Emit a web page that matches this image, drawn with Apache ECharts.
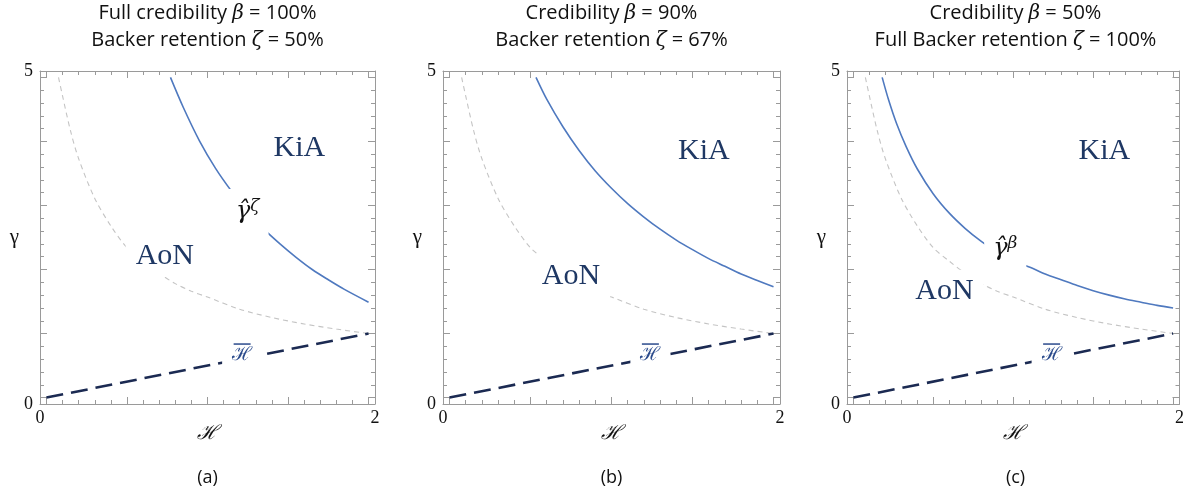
<!DOCTYPE html>
<html><head><meta charset="utf-8">
<script src="https://cdn.jsdelivr.net/npm/echarts@6/dist/echarts.min.js"></script>
<style>html,body{margin:0;padding:0;background:#fff}#c{width:1187px;height:494px}</style>
</head><body><div id="c"></div><script>
// ---- data (H on x, gamma on y) ----
const grayH = [0.075,0.1,0.15,0.2,0.3,0.4,0.5,0.6,0.7,0.8,0.9,1.0,1.2,1.4,1.6,1.8,2.0];
const grayG = [5.0,4.71,4.16,3.73,3.11,2.68,2.34,2.13,1.94,1.78,1.66,1.57,1.38,1.25,1.15,1.07,1.0];

const blueAH = [0.77,0.85,0.95,1.05,1.15,1.25,1.35,1.45,1.55,1.65,1.75,1.85,2.0];
const blueAG = [5.0,4.53,4.01,3.58,3.22,2.90,2.63,2.40,2.19,2.00,1.84,1.69,1.49];

const blueBH = [0.534,0.6,0.7,0.8,0.9,1.0,1.1,1.2,1.3,1.4,1.5,1.6,1.7,1.8,1.9,2.0];
const blueBG = [5.0,4.66,4.23,3.86,3.54,3.27,3.03,2.82,2.63,2.46,2.31,2.17,2.05,1.93,1.83,1.73];

const blueCH = [0.18,0.22,0.27,0.33,0.4,0.5,0.6,0.7,0.8,0.9,1.0,1.1,1.2,1.3,1.4,1.5,1.6,1.7,1.8,1.9,2.0];
const blueCG = [5.0,4.65,4.28,3.92,3.57,3.18,2.88,2.64,2.44,2.27,2.13,2.04,1.93,1.84,1.75,1.67,1.60,1.54,1.49,1.44,1.40];

const hbarH = [0, 2];
const hbarG = [0, 1];

const xMajorTicks = [0, 0.5, 1, 1.5, 2];
const xMinorTicks = [0.1,0.2,0.3,0.4,0.6,0.7,0.8,0.9,1.1,1.2,1.3,1.4,1.6,1.7,1.8,1.9];
const yMajorTicks = [0, 1, 2, 3, 4, 5];
const yMinorTicks = [0.2,0.4,0.6,0.8,1.2,1.4,1.6,1.8,2.2,2.4,2.6,2.8,3.2,3.4,3.6,3.8,4.2,4.4,4.6,4.8];
const xTickText = ['0', '2'];
const yTickText = ['0', '5'];

const titleLines = [
  ['Full credibility {i|β} = 100%', 'Backer retention {i|ζ} = 50%'],
  ['Credibility {i|β} = 90%', 'Backer retention {i|ζ} = 67%'],
  ['Credibility {i|β} = 50%', 'Full Backer retention {i|ζ} = 100%']
];
const panelTags = ['(a)', '(b)', '(c)'];
const blueLabel = ['ζ', null, 'β'];

// label anchors in data coordinates [H, gamma]
const kiaAt = [[1.57, 3.9], [1.57, 3.85], [1.57, 3.85]];
const aonAt = [[0.735, 2.21], [0.75, 1.9], [0.57, 1.67]];
const hatAt = [[1.25, 2.9], null, [0.95, 2.32]];
const hbarAt = [[1.215, 0.68], [1.24, 0.68], [1.24, 0.68]];

// ---- styling ----
const NAVY = '#1f3864';
const FRAME = '#9a9a9a';
const gridLeft = [40, 443, 847];
const gridWidth = [335, 337, 337];
const gridTop = 71, gridHeight = 333;
const XMIN = -0.04, XMAX = 2.04, YMIN = -0.1, YMAX = 5.1;

const chart = echarts.init(document.getElementById('c'));
const grids = [], xAxes = [], yAxes = [], series = [], titles = [];

function xAx(g, pos, ticks, len, major) {
  return {
    type: 'value', gridIndex: g, position: pos, min: XMIN, max: XMAX,
    axisLine: {show: major, onZero: false, lineStyle: {color: FRAME, width: 1}},
    axisTick: {show: true, inside: true, length: len, customValues: ticks, lineStyle: {color: FRAME, width: 1}},
    axisLabel: (major && pos === 'bottom') ? {
      show: true, customValues: [XMIN, XMAX], margin: 5,
      formatter: v => v < 1 ? xTickText[0] : xTickText[1],
      fontFamily: 'Liberation Serif', fontSize: 18, color: '#111'
    } : {show: false},
    splitLine: {show: false},
    name: (major && pos === 'bottom') ? 'ℋ' : '',
    nameLocation: 'middle', nameGap: 20, nameMoveOverlap: false,
    nameTextStyle: {fontFamily: 'DejaVu Serif', fontStyle: 'italic', fontSize: 20, color: '#111'}
  };
}
function yAx(g, pos, ticks, len, major) {
  return {
    type: 'value', gridIndex: g, position: pos, min: YMIN, max: YMAX,
    axisLine: {show: major, onZero: false, lineStyle: {color: FRAME, width: 1}},
    axisTick: {show: true, inside: true, length: len, customValues: ticks, lineStyle: {color: FRAME, width: 1}},
    axisLabel: (major && pos === 'left') ? {
      show: true, customValues: [YMIN, YMAX], margin: 7,
      formatter: v => v < 1 ? yTickText[0] : yTickText[1],
      fontFamily: 'Liberation Serif', fontSize: 18, color: '#111'
    } : {show: false},
    splitLine: {show: false},
    name: (major && pos === 'left') ? 'γ' : '',
    nameLocation: 'middle', nameGap: 21, nameRotate: 0, nameMoveOverlap: false,
    nameTextStyle: {fontFamily: 'Liberation Serif', fontSize: 21, color: '#111'}
  };
}
const zip = (a, b) => a.map((v, i) => [v, b[i]]);
const blues = [zip(blueAH, blueAG), zip(blueBH, blueBG), zip(blueCH, blueCG)];

for (let g = 0; g < 3; g++) {
  grids.push({left: gridLeft[g], top: gridTop, width: gridWidth[g], height: gridHeight, containLabel: false});
  const xb = xAxes.length;
  xAxes.push(xAx(g, 'bottom', xMajorTicks, 7, true));
  xAxes.push(xAx(g, 'bottom', xMinorTicks, 4, false));
  xAxes.push(xAx(g, 'top', xMajorTicks, 7, true));
  xAxes.push(xAx(g, 'top', xMinorTicks, 4, false));
  const yb = yAxes.length;
  yAxes.push(yAx(g, 'left', yMajorTicks, 7, true));
  yAxes.push(yAx(g, 'left', yMinorTicks, 4, false));
  yAxes.push(yAx(g, 'right', yMajorTicks, 7, true));
  yAxes.push(yAx(g, 'right', yMinorTicks, 4, false));

  series.push({type: 'line', xAxisIndex: xb, yAxisIndex: yb, data: zip(grayH, grayG), smooth: 0.3,
    showSymbol: false, silent: true, z: 2,
    lineStyle: {color: '#c4c4c4', width: 1.1, type: [5, 4]}});
  series.push({type: 'line', xAxisIndex: xb, yAxisIndex: yb, data: blues[g], smooth: 0.3,
    showSymbol: false, silent: true, z: 3,
    lineStyle: {color: '#4f79bf', width: 1.6}});
  series.push({type: 'line', xAxisIndex: xb, yAxisIndex: yb, data: zip(hbarH, hbarG),
    showSymbol: false, silent: true, z: 3,
    lineStyle: {color: '#1b2a52', width: 2.6, type: [17, 8]}});

  const lab = [];
  lab.push({value: kiaAt[g], label: {formatter: '{r|KiA}'}});
  lab.push({value: aonAt[g], label: {formatter: '{r|AoN}', backgroundColor: '#ffffff', padding: [6, 10]}});
  if (hatAt[g]) lab.push({value: hatAt[g], label: {formatter: '{g|γ̂}{s|' + blueLabel[g] + '}', backgroundColor: '#ffffff', padding: [9, 9]}});
  lab.push({value: hbarAt[g], label: {formatter: '{bar|}\n{h|ℋ}', backgroundColor: '#ffffff', padding: [1, 10]}});
  series.push({type: 'scatter', xAxisIndex: xb, yAxisIndex: yb, data: lab, symbolSize: 0,
    itemStyle: {color: '#ffffff', opacity: 1}, silent: true, z: 10,
    label: {show: true, position: 'inside', opacity: 1, textBorderWidth: 0, color: '#111', rich: {
      r: {fontFamily: 'Liberation Serif', fontSize: 30, color: NAVY, opacity: 1},
      g: {fontFamily: 'DejaVu Serif', fontStyle: 'italic', fontSize: 24, color: '#111', lineHeight: 28},
      s: {fontFamily: 'DejaVu Serif', fontStyle: 'italic', fontSize: 17, color: '#111', verticalAlign: 'top', lineHeight: 28},
      bar: {width: 17, height: 1.5, backgroundColor: '#2a4a8c', lineHeight: 3, align: 'center'},
      h: {fontFamily: 'DejaVu Serif', fontSize: 19, color: '#2a4a8c', lineHeight: 20, align: 'center'}
    }}});

  const cx = gridLeft[g] + gridWidth[g] / 2;
  titles.push({text: titleLines[g].join('\n'), left: cx, top: 0, textAlign: 'center', padding: 0,
    textStyle: {fontFamily: 'Open Sans', fontWeight: 'normal', fontSize: 20, color: '#111', lineHeight: 27,
      rich: {i: {fontFamily: 'DejaVu Serif', fontStyle: 'italic', fontSize: 20, color: '#111', lineHeight: 27}}}});
  titles.push({text: panelTags[g], left: cx, top: 467, textAlign: 'center', padding: 0,
    textStyle: {fontFamily: 'Open Sans', fontWeight: 'normal', fontSize: 18, color: '#111', lineHeight: 22}});
}

chart.setOption({
  backgroundColor: '#fff', animation: false,
  title: titles, grid: grids, xAxis: xAxes, yAxis: yAxes, series: series
});
</script></body></html>
